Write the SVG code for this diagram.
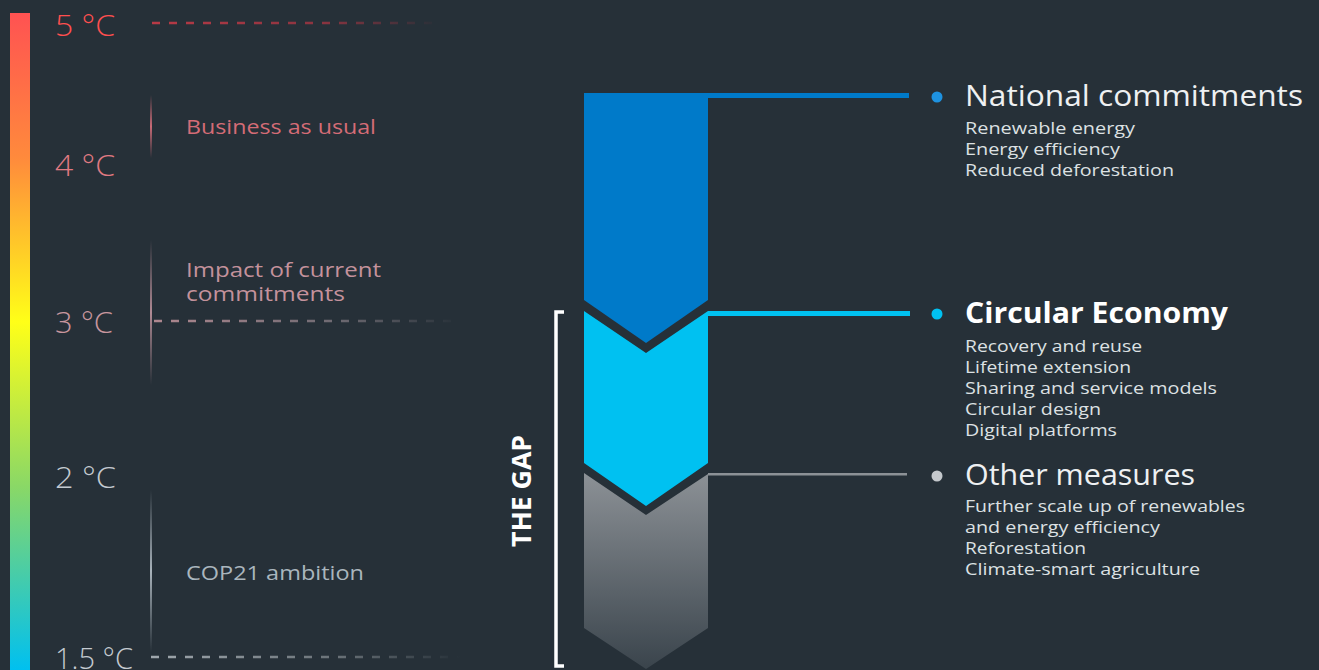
<svg xmlns="http://www.w3.org/2000/svg" width="1319" height="670" viewBox="0 0 1319 670">
<defs>
<linearGradient id="bar" x1="0" y1="13" x2="0" y2="670" gradientUnits="userSpaceOnUse">
<stop offset="0" stop-color="#ff5252"/>
<stop offset="0.22" stop-color="#ff8a3c"/>
<stop offset="0.47" stop-color="#ffff18"/>
<stop offset="0.72" stop-color="#8ad866"/>
<stop offset="1" stop-color="#00c0f0"/>
</linearGradient>
<linearGradient id="d5" x1="150" y1="0" x2="440" y2="0" gradientUnits="userSpaceOnUse">
<stop offset="0" stop-color="#b83a46"/>
<stop offset="0.6" stop-color="#8a3440"/>
<stop offset="1" stop-color="#263038"/>
</linearGradient>
<linearGradient id="d3" x1="152" y1="0" x2="460" y2="0" gradientUnits="userSpaceOnUse">
<stop offset="0" stop-color="#b08890"/>
<stop offset="0.6" stop-color="#6e6a72"/>
<stop offset="1" stop-color="#263038"/>
</linearGradient>
<linearGradient id="d15" x1="150" y1="0" x2="460" y2="0" gradientUnits="userSpaceOnUse">
<stop offset="0" stop-color="#a0a8ae"/>
<stop offset="0.6" stop-color="#6a7278"/>
<stop offset="1" stop-color="#263038"/>
</linearGradient>
<linearGradient id="v1" x1="0" y1="95" x2="0" y2="158" gradientUnits="userSpaceOnUse">
<stop offset="0" stop-color="#263038"/>
<stop offset="0.5" stop-color="#c86a76"/>
<stop offset="1" stop-color="#263038"/>
</linearGradient>
<linearGradient id="v2" x1="0" y1="240" x2="0" y2="385" gradientUnits="userSpaceOnUse">
<stop offset="0" stop-color="#263038"/>
<stop offset="0.5" stop-color="#b08a94"/>
<stop offset="1" stop-color="#263038"/>
</linearGradient>
<linearGradient id="v3" x1="0" y1="490" x2="0" y2="652" gradientUnits="userSpaceOnUse">
<stop offset="0" stop-color="#263038"/>
<stop offset="0.5" stop-color="#a8b2ba"/>
<stop offset="1" stop-color="#263038"/>
</linearGradient>
<linearGradient id="grey" x1="0" y1="473" x2="0" y2="669" gradientUnits="userSpaceOnUse">
<stop offset="0" stop-color="#8c9196"/>
<stop offset="1" stop-color="#3a444c"/>
</linearGradient>
<style>
text{font-family:"Open Sans","Noto Sans","DejaVu Sans",sans-serif;}
.deg{font-size:30px;font-weight:300;}
.lbl{font-size:20px;font-weight:400;}
.ttl{font-size:29px;font-weight:400;fill:#eef0f2;}
.ttlb{font-size:29px;font-weight:700;fill:#ffffff;}
.sub{font-size:17px;font-weight:400;fill:#dde1e3;}
.gap{font-size:26px;font-weight:700;fill:#ffffff;}
.dash{stroke-width:2.5;stroke-dasharray:8 9;fill:none;}
</style>
</defs>
<rect x="0" y="0" width="1319" height="670" fill="#263038"/>

<g id="scale">
<rect x="10" y="13" width="20" height="657" fill="url(#bar)"/>
<text class="deg" x="55" y="36" fill="#ff4f4f" textLength="60" lengthAdjust="spacingAndGlyphs">5 °C</text>
<text class="deg" x="55" y="176" fill="#e07a82" textLength="60" lengthAdjust="spacingAndGlyphs">4 °C</text>
<text class="deg" x="55" y="333" fill="#c8969e" textLength="58" lengthAdjust="spacingAndGlyphs">3 °C</text>
<text class="deg" x="55" y="488" fill="#c4cad0" textLength="61" lengthAdjust="spacingAndGlyphs">2 °C</text>
<text class="deg" x="55" y="669" fill="#c4cad0" textLength="78" lengthAdjust="spacingAndGlyphs">1.5 °C</text>
</g>

<g id="levels">
<line class="dash" x1="152" y1="23" x2="440" y2="23" stroke="url(#d5)"/>
<line class="dash" x1="154" y1="321" x2="460" y2="321" stroke="url(#d3)"/>
<line class="dash" x1="151" y1="657" x2="460" y2="657" stroke="url(#d15)"/>
<rect x="150" y="95" width="2" height="63" fill="url(#v1)"/>
<rect x="150" y="240" width="2" height="145" fill="url(#v2)"/>
<rect x="150" y="490" width="2" height="162" fill="url(#v3)"/>
</g>

<g id="business">
<text class="lbl" x="186" y="134" fill="#d46c76" textLength="190" lengthAdjust="spacingAndGlyphs">Business as usual</text>
</g>
<g id="impact">
<text class="lbl" x="186" y="277" fill="#c4929c" textLength="195" lengthAdjust="spacingAndGlyphs">Impact of current</text>
<text class="lbl" x="186" y="301" fill="#c4929c" textLength="159" lengthAdjust="spacingAndGlyphs">commitments</text>
</g>
<g id="cop21">
<text class="lbl" x="186" y="580" fill="#aab6be" textLength="178" lengthAdjust="spacingAndGlyphs">COP21 ambition</text>
</g>

<g id="gap">
<path d="M564,312 H556 V666 H564" fill="none" stroke="#ffffff" stroke-width="3.5"/>
<text class="gap" transform="translate(531,491) rotate(-90)" text-anchor="middle" textLength="112" lengthAdjust="spacingAndGlyphs">THE GAP</text>
</g>

<g id="national-chevron">
<polygon points="584,93 708,93 708,300 646,343 584,300" fill="#007ac9"/>
</g>
<g id="circular-chevron">
<polygon points="584,311 646,353 708,311 708,463 646,506 584,463" fill="#00c1f1"/>
</g>
<g id="other-chevron">
<polygon points="584,473 646,515 708,474 708,628 646,669 584,628" fill="url(#grey)"/>
</g>

<g id="connectors">
<rect x="708" y="93" width="201" height="5" fill="#007ac9"/>
<rect x="708" y="311" width="202" height="5" fill="#00c1f1"/>
<rect x="708" y="473" width="199" height="2.5" fill="#8c9196"/>
</g>

<g id="national">
<circle cx="937" cy="97" r="5.5" fill="#1e92e0"/>
<text class="ttl" x="965" y="106" textLength="338" lengthAdjust="spacingAndGlyphs">National commitments</text>
<text class="sub" x="965" y="134" textLength="170" lengthAdjust="spacingAndGlyphs">Renewable energy</text>
<text class="sub" x="965" y="155" textLength="155" lengthAdjust="spacingAndGlyphs">Energy efficiency</text>
<text class="sub" x="965" y="176" textLength="209" lengthAdjust="spacingAndGlyphs">Reduced deforestation</text>
</g>

<g id="circular">
<circle cx="937" cy="314" r="5.5" fill="#00c1f1"/>
<text class="ttlb" x="965" y="323" textLength="263" lengthAdjust="spacingAndGlyphs">Circular Economy</text>
<text class="sub" x="965" y="352" textLength="177" lengthAdjust="spacingAndGlyphs">Recovery and reuse</text>
<text class="sub" x="965" y="373" textLength="166" lengthAdjust="spacingAndGlyphs">Lifetime extension</text>
<text class="sub" x="965" y="394" textLength="252" lengthAdjust="spacingAndGlyphs">Sharing and service models</text>
<text class="sub" x="965" y="415" textLength="136" lengthAdjust="spacingAndGlyphs">Circular design</text>
<text class="sub" x="965" y="436" textLength="152" lengthAdjust="spacingAndGlyphs">Digital platforms</text>
</g>

<g id="other">
<circle cx="937" cy="476" r="5.5" fill="#c4c8cc"/>
<text class="ttl" x="965" y="485" textLength="230" lengthAdjust="spacingAndGlyphs">Other measures</text>
<text class="sub" x="965" y="512" textLength="280" lengthAdjust="spacingAndGlyphs">Further scale up of renewables</text>
<text class="sub" x="965" y="533" textLength="195" lengthAdjust="spacingAndGlyphs">and energy efficiency</text>
<text class="sub" x="965" y="554" textLength="121" lengthAdjust="spacingAndGlyphs">Reforestation</text>
<text class="sub" x="965" y="575" textLength="235" lengthAdjust="spacingAndGlyphs">Climate-smart agriculture</text>
</g>
</svg>
